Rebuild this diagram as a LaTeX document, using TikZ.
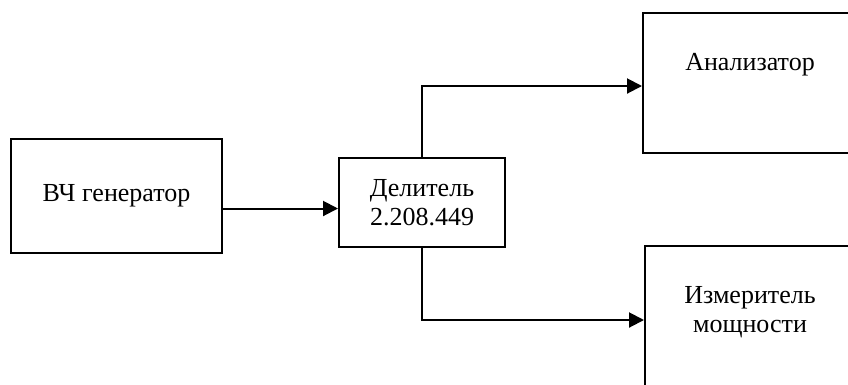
\documentclass[tikz,border=0pt]{standalone}
\usepackage{fontspec}
\setmainfont{Liberation Serif}
\usetikzlibrary{arrows.meta}

\begin{document}
\begin{tikzpicture}[x=1pt,y=-1pt,
  block/.style={draw,line width=2pt,inner sep=0pt},
  boxtext/.style={font=\fontsize{26}{29}\selectfont,align=center},
  arr/.style={line width=2pt,-{Triangle[length=15pt,width=15pt]}}]
\useasboundingbox (0,0) rectangle (848,384);
\clip (0,0) rectangle (848,384);

\node[block,boxtext,minimum width=211pt,minimum height=114pt] (gen) at (116.5,196) {ВЧ генератор};
\node[block,boxtext,minimum width=166pt,minimum height=89pt] (div) at (422,202.5) {Делитель\\2.208.449};
\node[block,minimum width=214pt,minimum height=140pt] (anal) at (750,83) {};
\node[block,minimum width=210pt,minimum height=148pt] (meter) at (750,320) {};

\node[boxtext] (analtxt) at (750,65) {Анализатор};
\node[boxtext] (metertxt) at (750,312) {Измеритель\\мощности};

\coordinate (divin) at ([yshift=-6pt]div.west);
\draw[arr] (gen.east |- divin) -- (divin);
\draw[arr] (div.north) |- ([yshift=-3pt]anal.west);
\draw[arr] (div.south) |- (meter.west);
\end{tikzpicture}
\end{document}
